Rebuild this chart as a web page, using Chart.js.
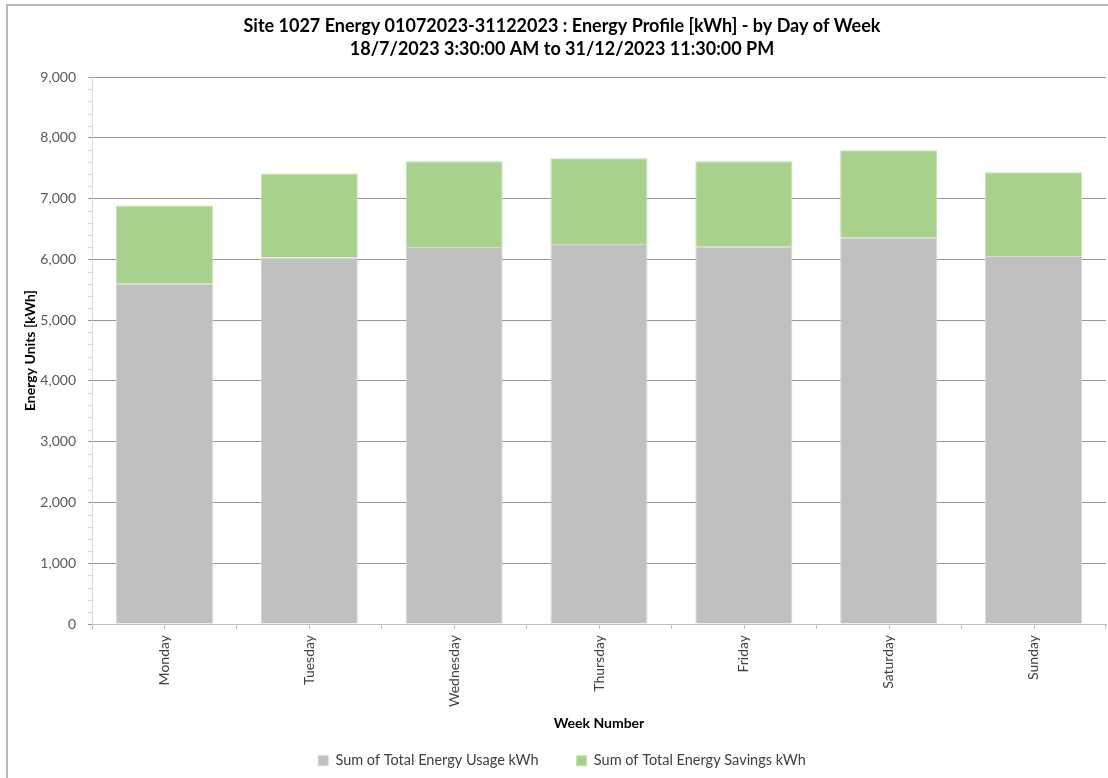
<!DOCTYPE html>
<html>
<head>
<meta charset="utf-8">
<script src="https://cdn.jsdelivr.net/npm/chart.js@4.4.1/dist/chart.umd.min.js"></script>
<style>
  html,body{margin:0;padding:0;background:#fff;overflow:hidden}
  #wrap{position:absolute;left:0;top:0;width:1108px;height:778px}
  #frame{position:absolute;left:6px;top:4px;width:1200px;height:900px;border:2px solid #b8b8b8;box-sizing:border-box;pointer-events:none}
</style>
</head>
<body>
<div id="wrap"><canvas id="c"></canvas></div>
<div id="frame"></div>
<script>
const days = ['Monday','Tuesday','Wednesday','Thursday','Friday','Saturday','Sunday'];
const usage = [5600, 6033, 6203, 6252, 6209, 6357, 6054];
const savings = [1285, 1379, 1412, 1413, 1406, 1440, 1380];
const titleLines = ['Site 1027 Energy 01072023-31122023 : Energy Profile [kWh] - by Day of Week',
                    '18/7/2023 3:30:00 AM to 31/12/2023 11:30:00 PM'];
const yMin = 0, yMax = 9000, yStep = 1000, yMinor = 200;

const FONT = 'Lato, "Open Sans", sans-serif';

// small tick marks Excel draws: minor ticks on y, centre ticks on x
const minorTicks = {
  id:'minorTicks',
  afterDraw(chart){
    const {ctx, scales:{x, y}} = chart;
    ctx.save();
    ctx.lineWidth = 1;
    ctx.strokeStyle = '#d9d9d9';
    for(let v = yMin; v <= yMax; v += yMinor){
      if(v % yStep === 0) continue;
      const py = Math.round(y.getPixelForValue(v)) + 0.5;
      ctx.beginPath(); ctx.moveTo(y.right - 4, py); ctx.lineTo(y.right, py); ctx.stroke();
    }
    ctx.strokeStyle = '#bfbfbf';
    days.forEach((d, i)=>{
      const px = Math.round(x.getPixelForValue(i)) + 0.5;
      ctx.beginPath(); ctx.moveTo(px, x.top); ctx.lineTo(px, x.top + 5); ctx.stroke();
    });
    ctx.restore();
  }
};

new Chart(document.getElementById('c'), {
  type:'bar',
  data:{
    labels: days,
    datasets:[
      {label:'Sum of Total Energy Usage kWh', data: usage, backgroundColor:'#c0c0c0', borderColor:'#d6d6d6', borderWidth:1, barPercentage:0.67, categoryPercentage:1},
      {label:'Sum of Total Energy Savings kWh', data: savings, backgroundColor:'#a9d18e', borderColor:'#c2e0ad', borderWidth:1, barPercentage:0.67, categoryPercentage:1}
    ]
  },
  options:{
    responsive:true,
    maintainAspectRatio:false,
    animation:false,
    layout:{padding:{left:18, right:2, top:0, bottom:0}},
    plugins:{
      title:{
        display:true,
        text: titleLines,
        color:'#000',
        font:{family:FONT, size:18, weight:'bold', lineHeight:1.28},
        padding:{top:14.5, bottom:16.5}
      },
      legend:{
        position:'bottom',
        labels:{
          color:'#404040',
          boxWidth:10,
          boxHeight:10,
          padding:38,
          font:{family:FONT, size:14.5}
        }
      },
      tooltip:{enabled:false}
    },
    scales:{
      x:{
        stacked:true,
        afterFit(s){ s.height = 91.5; },
        border:{color:'#bfbfbf', width:1},
        grid:{display:true, drawOnChartArea:false, offset:true, color:'#bfbfbf', tickLength:5},
        ticks:{color:'#404040', minRotation:90, maxRotation:90, padding:6, font:{family:FONT, size:14}},
        title:{display:true, text:'Week Number', color:'#000', font:{family:FONT, size:14, weight:'bold'}, padding:{top:0, bottom:-16}}
      },
      y:{
        stacked:true,
        min:yMin,
        max:yMax,
        afterFit(s){ s.width = 74; },
        border:{color:'#d9d9d9', width:1},
        grid:{color:'#969696', tickLength:4},
        ticks:{stepSize:yStep, color:'#595959', padding:12, font:{family:FONT, size:14},
               callback(v){ return v.toLocaleString('en-US'); }},
        title:{display:true, text:'Energy Units [kWh]', color:'#000', font:{family:FONT, size:14, weight:'bold'}, padding:{top:3.6, bottom:0}}
      }
    }
  },
  plugins:[minorTicks]
});
</script>
</body>
</html>
